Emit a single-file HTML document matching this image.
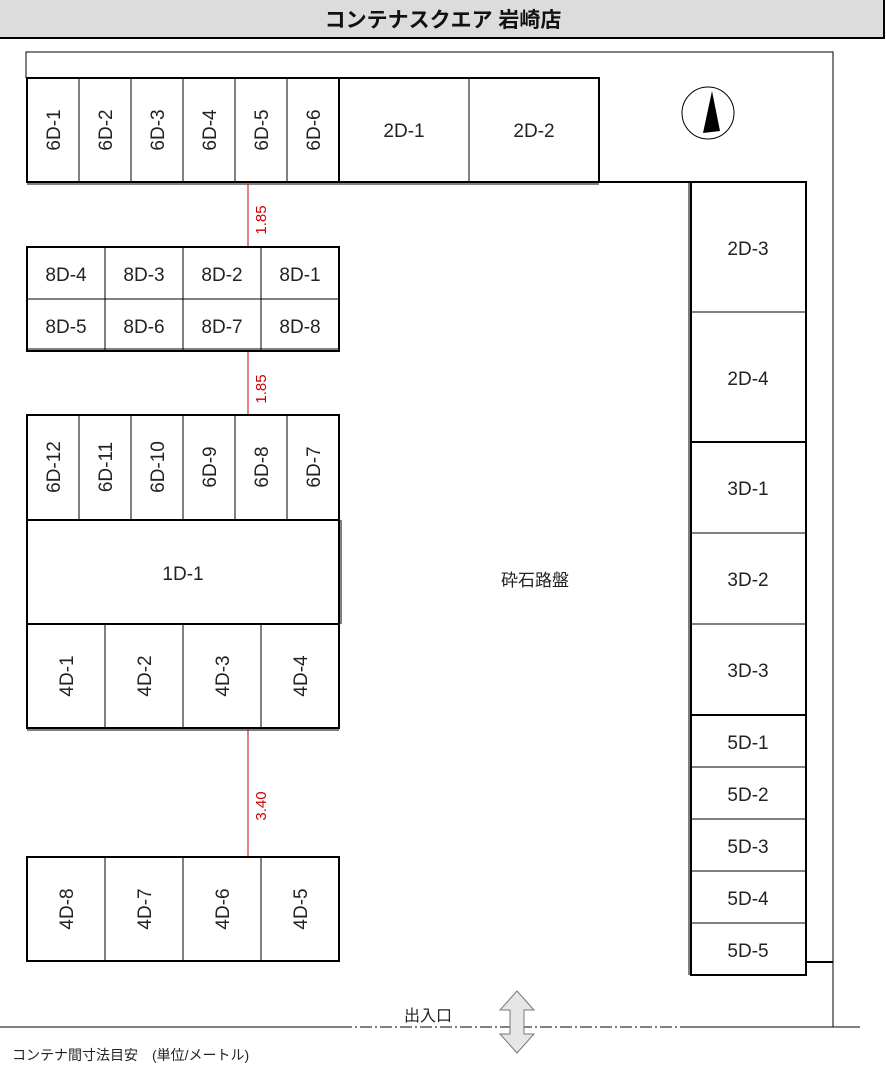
<!DOCTYPE html>
<html><head><meta charset="utf-8"><style>
body{margin:0;background:#fff}
svg{display:block}
text{font-family:"Liberation Sans","Noto Sans CJK JP",sans-serif;font-size:19px;fill:#222}
.b{fill:none;stroke:#000;stroke-width:2}
.t{fill:none;stroke:#000;stroke-width:1}
.r{stroke:#c00;stroke-width:1}
.rt{fill:#c00;font-size:15px}
</style></head><body>
<svg width="886" height="1067" viewBox="0 0 886 1067" xmlns="http://www.w3.org/2000/svg">
<!-- header -->
<rect x="0" y="0" width="884" height="38" fill="#dcdcdc"/>
<line x1="0" y1="38" x2="885" y2="38" stroke="#000" stroke-width="2"/>
<line x1="884" y1="0" x2="884" y2="39" stroke="#000" stroke-width="2"/>
<text x="443" y="27" text-anchor="middle" style="font-size:21px;fill:#111;font-weight:bold">コンテナスクエア 岩崎店</text>
<!-- property lines -->
<polyline class="t" points="26,78 26,52 833,52 833,1027"/>
<line x1="0" y1="1027" x2="340" y2="1027" stroke="#000"/>
<line x1="340" y1="1027" x2="690" y2="1027" stroke="#000" stroke-dasharray="12,3,2,3"/>
<line x1="690" y1="1027" x2="860" y2="1027" stroke="#000"/>
<line x1="599" y1="182" x2="690" y2="182" class="b"/>
<line x1="806" y1="962" x2="833" y2="962" class="b"/>
<!-- compass -->
<ellipse cx="708" cy="113" rx="26" ry="26" class="t" stroke-width="1.2"/>
<polygon points="712,91 703,133 720,131" fill="#000"/>
<!-- top row -->
<rect x="27" y="78" width="572" height="104" class="b"/>
<line x1="27" y1="184" x2="599" y2="184" class="t"/>
<g class="t">
<line x1="79" y1="78" x2="79" y2="182"/><line x1="131" y1="78" x2="131" y2="182"/><line x1="183" y1="78" x2="183" y2="182"/><line x1="235" y1="78" x2="235" y2="182"/><line x1="287" y1="78" x2="287" y2="182"/><line x1="469" y1="78" x2="469" y2="182"/>
</g>
<line x1="339" y1="78" x2="339" y2="182" class="b"/>
<g text-anchor="middle">
<text transform="translate(60,130) rotate(-90)">6D-1</text>
<text transform="translate(112,130) rotate(-90)">6D-2</text>
<text transform="translate(164,130) rotate(-90)">6D-3</text>
<text transform="translate(216,130) rotate(-90)">6D-4</text>
<text transform="translate(268,130) rotate(-90)">6D-5</text>
<text transform="translate(320,130) rotate(-90)">6D-6</text>
<text x="404" y="137">2D-1</text>
<text x="534" y="137">2D-2</text>
</g>
<!-- dims -->
<line x1="248" y1="184" x2="248" y2="247" class="r"/>
<text class="rt" transform="translate(266,220) rotate(-90)" text-anchor="middle">1.85</text>
<line x1="248" y1="351" x2="248" y2="415" class="r"/>
<text class="rt" transform="translate(266,389) rotate(-90)" text-anchor="middle">1.85</text>
<line x1="248" y1="730" x2="248" y2="857" class="r"/>
<text class="rt" transform="translate(266,806) rotate(-90)" text-anchor="middle">3.40</text>
<!-- 8D -->
<rect x="27" y="247" width="312" height="104" class="b"/>
<line x1="27" y1="349" x2="339" y2="349" class="t"/>
<g class="t"><line x1="27" y1="299" x2="339" y2="299"/><line x1="105" y1="247" x2="105" y2="351"/><line x1="183" y1="247" x2="183" y2="351"/><line x1="261" y1="247" x2="261" y2="351"/></g>
<g text-anchor="middle">
<text x="66" y="281">8D-4</text><text x="144" y="281">8D-3</text><text x="222" y="281">8D-2</text><text x="300" y="281">8D-1</text>
<text x="66" y="333">8D-5</text><text x="144" y="333">8D-6</text><text x="222" y="333">8D-7</text><text x="300" y="333">8D-8</text>
</g>
<!-- 6D-7..12 -->
<rect x="27" y="415" width="312" height="105" class="b"/>
<g class="t"><line x1="79" y1="415" x2="79" y2="520"/><line x1="131" y1="415" x2="131" y2="520"/><line x1="183" y1="415" x2="183" y2="520"/><line x1="235" y1="415" x2="235" y2="520"/><line x1="287" y1="415" x2="287" y2="520"/></g>
<g text-anchor="middle">
<text transform="translate(60,467) rotate(-90)">6D-12</text>
<text transform="translate(112,467) rotate(-90)">6D-11</text>
<text transform="translate(164,467) rotate(-90)">6D-10</text>
<text transform="translate(216,467) rotate(-90)">6D-9</text>
<text transform="translate(268,467) rotate(-90)">6D-8</text>
<text transform="translate(320,467) rotate(-90)">6D-7</text>
</g>
<!-- 1D-1 -->
<rect x="27" y="520" width="312" height="104" class="b"/>
<line x1="341" y1="520" x2="341" y2="624" class="t"/>
<text x="183" y="580" text-anchor="middle">1D-1</text>
<!-- 4D-1..4 -->
<rect x="27" y="624" width="312" height="104" class="b"/>
<line x1="27" y1="730" x2="339" y2="730" class="t"/>
<g class="t"><line x1="105" y1="624" x2="105" y2="728"/><line x1="183" y1="624" x2="183" y2="728"/><line x1="261" y1="624" x2="261" y2="728"/></g>
<g text-anchor="middle">
<text transform="translate(73,676) rotate(-90)">4D-1</text>
<text transform="translate(151,676) rotate(-90)">4D-2</text>
<text transform="translate(229,676) rotate(-90)">4D-3</text>
<text transform="translate(307,676) rotate(-90)">4D-4</text>
</g>
<!-- 4D-8..5 -->
<rect x="27" y="857" width="312" height="104" class="b"/>
<g class="t"><line x1="105" y1="857" x2="105" y2="961"/><line x1="183" y1="857" x2="183" y2="961"/><line x1="261" y1="857" x2="261" y2="961"/></g>
<g text-anchor="middle">
<text transform="translate(73,909) rotate(-90)">4D-8</text>
<text transform="translate(151,909) rotate(-90)">4D-7</text>
<text transform="translate(229,909) rotate(-90)">4D-6</text>
<text transform="translate(307,909) rotate(-90)">4D-5</text>
</g>
<!-- right column -->
<rect x="691" y="182" width="115" height="260" class="b"/>
<line x1="689" y1="182" x2="689" y2="975" class="t"/>
<line x1="691" y1="312" x2="806" y2="312" class="t"/>
<rect x="691" y="442" width="115" height="273" class="b"/>
<g class="t"><line x1="691" y1="533" x2="806" y2="533"/><line x1="691" y1="624" x2="806" y2="624"/></g>
<rect x="691" y="715" width="115" height="260" class="b"/>
<g class="t"><line x1="691" y1="767" x2="806" y2="767"/><line x1="691" y1="819" x2="806" y2="819"/><line x1="691" y1="871" x2="806" y2="871"/><line x1="691" y1="923" x2="806" y2="923"/></g>
<g text-anchor="middle">
<text x="748" y="255">2D-3</text><text x="748" y="385">2D-4</text>
<text x="748" y="495">3D-1</text><text x="748" y="586">3D-2</text><text x="748" y="677">3D-3</text>
<text x="748" y="749">5D-1</text><text x="748" y="801">5D-2</text><text x="748" y="853">5D-3</text><text x="748" y="905">5D-4</text><text x="748" y="957">5D-5</text>
</g>
<text x="535" y="586" text-anchor="middle" style="font-size:17px">砕石路盤</text>
<text x="428" y="1021" text-anchor="middle" style="font-size:16px">出入口</text>
<polygon points="517,991 534,1010 524,1010 524,1034 534,1034 517,1053 500,1034 510,1034 510,1010 500,1010" fill="#e6e6e6" stroke="#777" stroke-width="1"/>
<text x="12" y="1060" style="font-size:14px">コンテナ間寸法目安　(単位/メートル)</text>
</svg>
</body></html>
